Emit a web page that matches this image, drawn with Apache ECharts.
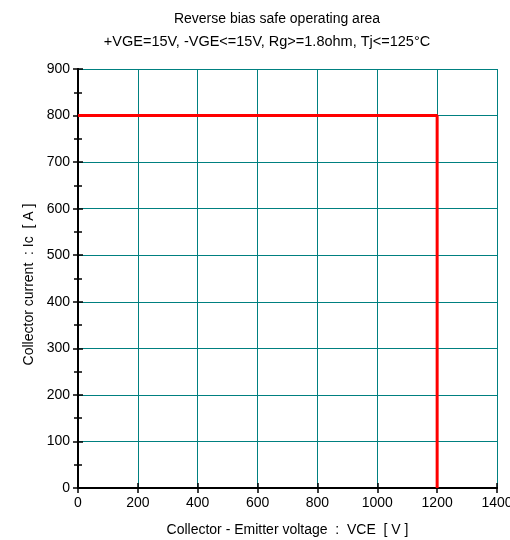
<!DOCTYPE html>
<html>
<head>
<meta charset="utf-8">
<script src="https://cdn.jsdelivr.net/npm/echarts@6/dist/echarts.min.js"></script>
<style>html,body{margin:0;padding:0;background:#fff;}#c{width:510px;height:540px;}</style>
</head>
<body>
<div id="c"></div>
<script>
const titleLines = ['Reverse bias safe operating area', '+VGE=15V, -VGE<=15V, Rg>=1.8ohm, Tj<=125°C'];
const xName = 'Collector - Emitter voltage  :  VCE  [ V ]';
const yName = 'Collector current  : Ic  [ A ]';
const xTicks = [0, 200, 400, 600, 800, 1000, 1200, 1400];
const yTicks = [0, 100, 200, 300, 400, 500, 600, 700, 800, 900];
const rbsoaVce = [0, 1200, 1200];
const rbsoaIc = [800, 800, 0];

const FONT = '"Liberation Sans", Arial, sans-serif';
const chart = echarts.init(document.getElementById('c'), null, {renderer: 'canvas'});
const xMin = xTicks[0], xMax = xTicks[xTicks.length - 1], xInt = xTicks[1] - xTicks[0];
const yMin = yTicks[0], yMax = yTicks[yTicks.length - 1], yInt = yTicks[1] - yTicks[0];
const grid = {left: 78, right: 13, top: 69, bottom: 52, containLabel: false, outerBoundsMode: 'none'};
const teal = '#008080';
const axisLineStyle = {color: '#000', width: 2};
const plain = v => String(v);
chart.setOption({
  animation: false,
  backgroundColor: '#fff',
  title: [
    {text: titleLines[0], left: 272, top: 7, textAlign: 'center', textStyle: {fontFamily: FONT, fontSize: 14, fontWeight: 'normal', color: '#000'}},
    {text: titleLines[1], left: 262, top: 29, textAlign: 'center', textStyle: {fontFamily: FONT, fontSize: 14.5, fontWeight: 'normal', color: '#000'}}
  ],
  grid: grid,
  xAxis: [
    {type: 'value', min: xMin, max: xMax, interval: xInt, position: 'bottom',
     name: xName, nameLocation: 'middle', nameGap: 35,
     nameTextStyle: {fontFamily: FONT, fontSize: 14, color: '#000'},
     axisLine: {show: true, lineStyle: axisLineStyle},
     axisTick: {show: true, inside: true, length: 5, lineStyle: {color: '#000', width: 1.5}},
     axisLabel: {fontFamily: FONT, fontSize: 14, color: '#000', margin: 8, formatter: plain},
     splitLine: {show: true, lineStyle: {color: teal, width: 1}}},
    {type: 'value', min: xMin, max: xMax, interval: xInt, position: 'top',
     axisLine: {show: true, lineStyle: axisLineStyle},
     axisTick: {show: true, inside: true, length: 5, lineStyle: {color: '#000', width: 1.5}},
     axisLabel: {show: false}, splitLine: {show: false}}
  ],
  yAxis: [
    {type: 'value', min: yMin, max: yMax, interval: yInt, position: 'left',
     name: yName, nameLocation: 'middle', nameGap: 42, nameRotate: 90,
     nameTextStyle: {fontFamily: FONT, fontSize: 14, color: '#000', padding: [0, 12, 0, 0]},
     axisLine: {show: true, lineStyle: axisLineStyle},
     axisTick: {show: true, inside: true, length: 5, lineStyle: {color: '#000', width: 1.5}},
     minorTick: {show: true, splitNumber: 2, length: 4, lineStyle: {color: '#000', width: 1.5}},
     axisLabel: {fontFamily: FONT, fontSize: 14, color: '#000', margin: 8, formatter: plain},
     splitLine: {show: true, lineStyle: {color: teal, width: 1}}},
    {type: 'value', min: yMin, max: yMax, interval: yInt, position: 'right',
     axisLine: {show: true, lineStyle: axisLineStyle},
     axisTick: {show: true, inside: true, length: 5, lineStyle: {color: '#000', width: 1.5}},
     minorTick: {show: true, splitNumber: 2, length: 4, lineStyle: {color: '#000', width: 1.5}},
     axisLabel: {show: false}, splitLine: {show: false}}
  ],
  series: [{
    type: 'line', xAxisIndex: 0, yAxisIndex: 0,
    data: rbsoaVce.map((v, i) => [v, rbsoaIc[i]]),
    symbol: 'none', lineStyle: {color: '#ff0000', width: 3}, z: 5
  }]
});
</script>
</body>
</html>
